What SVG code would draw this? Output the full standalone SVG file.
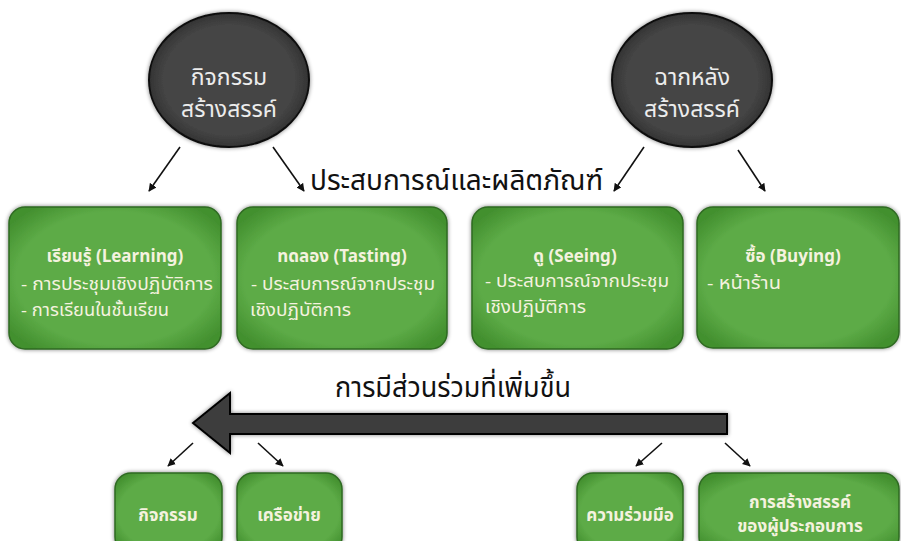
<svg xmlns="http://www.w3.org/2000/svg" width="901" height="541" viewBox="0 0 901 541">
<style>
.th{font-family:"Noto Sans Thai","Noto Sans","DejaVu Sans",sans-serif;}
.box{fill:url(#g);stroke:#2f6a22;stroke-width:1.5;}
.bt{fill:#f4f2df;font-weight:bold;font-size:17px;text-anchor:middle;}
.bl{fill:#f4f2df;font-size:17px;}
.bb{fill:#f4f2df;font-weight:bold;font-size:17px;text-anchor:middle;}
.ct{fill:#ececec;font-size:23px;text-anchor:middle;}
.big{fill:#111;font-size:28px;}
.con{stroke:#111;stroke-width:1.6;fill:none;marker-end:url(#ah);}
</style>
<defs>
<radialGradient id="g" cx="50%" cy="50%" r="62%">
<stop offset="0.75" stop-color="#5dab47"/>
<stop offset="1" stop-color="#43902f"/>
</radialGradient>
<radialGradient id="cg" cx="50%" cy="50%" r="55%">
<stop offset="0.75" stop-color="#444"/>
<stop offset="1" stop-color="#2a2a2a"/>
</radialGradient>
<marker id="ah" viewBox="0 0 10 10" refX="9" refY="5" markerWidth="8" markerHeight="8" markerUnits="userSpaceOnUse" orient="auto">
<path d="M0,0 L10,5 L0,10 z" fill="#111"/>
</marker>
<filter id="sh" x="-10%" y="-10%" width="120%" height="120%">
<feGaussianBlur in="SourceAlpha" stdDeviation="2"/>
<feOffset dx="0" dy="0"/>
<feComponentTransfer><feFuncA type="linear" slope="0.5"/></feComponentTransfer>
<feMerge><feMergeNode/><feMergeNode in="SourceGraphic"/></feMerge>
</filter>
</defs>
<rect width="901" height="541" fill="#fff"/>

<g id="circle1">
<ellipse cx="229" cy="80" rx="80" ry="67" fill="url(#cg)" stroke="#111" stroke-width="2" filter="url(#sh)"/>
<text class="th ct" x="229" y="85">กิจกรรม</text>
<text class="th ct" x="229" y="117">สร้างสรรค์</text>
</g>
<g id="circle2">
<ellipse cx="692" cy="80" rx="80" ry="67" fill="url(#cg)" stroke="#111" stroke-width="2" filter="url(#sh)"/>
<text class="th ct" x="692" y="85">ฉากหลัง</text>
<text class="th ct" x="692" y="117">สร้างสรรค์</text>
</g>

<g id="label1"><text class="th big" x="310" y="190" textLength="293" lengthAdjust="spacingAndGlyphs">ประสบการณ์และผลิตภัณฑ์</text></g>
<g id="label2"><text class="th big" x="335" y="397" textLength="236" lengthAdjust="spacingAndGlyphs">การมีส่วนร่วมที่เพิ่มขึ้น</text></g>

<g id="box-learning">
<rect class="box" x="9" y="207" width="212" height="142" rx="16" filter="url(#sh)"/>
<text class="th bt" x="115" y="262">เรียนรู้ (Learning)</text>
<text class="th bl" x="21" y="290" textLength="192" lengthAdjust="spacingAndGlyphs">- การประชุมเชิงปฏิบัติการ</text>
<text class="th bl" x="21" y="316" textLength="148" lengthAdjust="spacingAndGlyphs">- การเรียนในชั้นเรียน</text>
</g>
<g id="box-tasting">
<rect class="box" x="237" y="207" width="210" height="142" rx="16" filter="url(#sh)"/>
<text class="th bt" x="342" y="262">ทดลอง (Tasting)</text>
<text class="th bl" x="251" y="290" textLength="184" lengthAdjust="spacingAndGlyphs">- ประสบการณ์จากประชุม</text>
<text class="th bl" x="250" y="316" textLength="101" lengthAdjust="spacingAndGlyphs">เชิงปฏิบัติการ</text>
</g>
<g id="box-seeing">
<rect class="box" x="472" y="207" width="211" height="142" rx="16" filter="url(#sh)"/>
<text class="th bt" x="575" y="262">ดู (Seeing)</text>
<text class="th bl" x="485" y="287" textLength="184" lengthAdjust="spacingAndGlyphs">- ประสบการณ์จากประชุม</text>
<text class="th bl" x="485" y="313" textLength="101" lengthAdjust="spacingAndGlyphs">เชิงปฏิบัติการ</text>
</g>
<g id="box-buying">
<rect class="box" x="697" y="207" width="202" height="141" rx="16" filter="url(#sh)"/>
<text class="th bt" x="793" y="262">ซื้อ (Buying)</text>
<text class="th bl" x="707" y="289" textLength="74" lengthAdjust="spacingAndGlyphs">- หน้าร้าน</text>
</g>

<g id="big-arrow">
<polygon points="193,423 230,393 230,414 727,414 727,434 230,434 230,453" fill="#3c3c3c" stroke="#000" stroke-width="2" stroke-linejoin="miter" filter="url(#sh)"/>
</g>

<g id="box-activity">
<rect class="box" x="115" y="473" width="107" height="80" rx="16" filter="url(#sh)"/>
<text class="th bb" x="168" y="521">กิจกรรม</text>
</g>
<g id="box-network">
<rect class="box" x="237" y="473" width="105" height="80" rx="16" filter="url(#sh)"/>
<text class="th bb" x="289" y="521">เครือข่าย</text>
</g>
<g id="box-cooperation">
<rect class="box" x="577" y="473" width="106" height="80" rx="16" filter="url(#sh)"/>
<text class="th bb" x="630" y="521">ความร่วมมือ</text>
</g>
<g id="box-creation">
<rect class="box" x="699" y="473" width="200" height="80" rx="16" filter="url(#sh)"/>
<text class="th bb" x="800" y="508">การสร้างสรรค์</text>
<text class="th bb" x="800" y="532">ของผู้ประกอบการ</text>
</g>

<g id="connectors">
<line class="con" x1="180" y1="147" x2="149" y2="191"/>
<line class="con" x1="273" y1="147" x2="304" y2="191"/>
<line class="con" x1="644" y1="147" x2="614" y2="191"/>
<line class="con" x1="738" y1="150" x2="765" y2="191"/>
<line class="con" x1="193" y1="443" x2="168" y2="466"/>
<line class="con" x1="258" y1="443" x2="283" y2="466"/>
<line class="con" x1="662" y1="443" x2="636" y2="466"/>
<line class="con" x1="725" y1="443" x2="750" y2="466"/>
</g>
</svg>
